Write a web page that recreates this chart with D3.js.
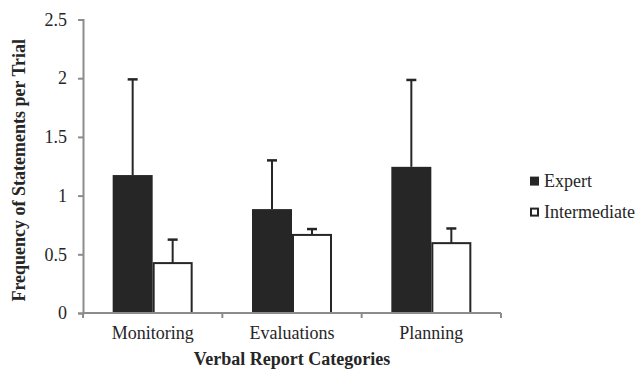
<!DOCTYPE html>
<html>
<head>
<meta charset="utf-8">
<script src="https://cdn.jsdelivr.net/npm/d3@7"></script>
<style>
  body { margin: 0; background: #fff; }
  svg text { font-family: "Liberation Serif", "DejaVu Serif", serif !important; }
</style>
</head>
<body>
<div id="viz"></div>
<script>
var categories = ['Monitoring', 'Evaluations', 'Planning'];
var series = ['Expert', 'Intermediate'];
var expert = [1.175, 0.885, 1.245];
var intermediate = [0.425, 0.665, 0.595];
var expertErr = [0.815, 0.415, 0.74];
var intermediateErr = [0.2, 0.05, 0.125];
var yTicks = [0, 0.5, 1, 1.5, 2, 2.5];

var FONT = '"Liberation Serif", "DejaVu Serif", serif';
var margin = { top: 19.5, right: 136, bottom: 56, left: 83 };
var W = 637, H = 369;
var width = W - margin.left - margin.right;
var height = H - margin.top - margin.bottom;

var svg = d3.select('#viz').append('svg')
    .attr('width', W)
    .attr('height', H)
    .append('g')
    .attr('transform', 'translate(' + margin.left + ',' + margin.top + ')');

var x = d3.scaleBand().domain(categories).range([0, width]).paddingInner(0).paddingOuter(0);
var x1 = d3.scaleBand().domain(series).range([0, 80]);
var y = d3.scaleLinear().domain([0, 2.5]).range([height, 0]);

var data = categories.map(function(c, i) {
    return [
        { cat: c, s: 'Expert', v: expert[i], e: expertErr[i] },
        { cat: c, s: 'Intermediate', v: intermediate[i], e: intermediateErr[i] }
    ];
});

var groups = svg.selectAll('.grp')
    .data(data)
    .enter().append('g')
    .attr('transform', function(d) {
        return 'translate(' + (x(d[0].cat) + x.bandwidth() / 2 - 40) + ',0)';
    });

// error bars (upper only), drawn under bars
groups.selectAll('.err')
    .data(function(d) { return d; })
    .enter().append('g')
    .each(function(d) {
        var g = d3.select(this);
        var cx = x1(d.s) + x1.bandwidth() / 2;
        g.append('line')
            .attr('x1', cx).attr('x2', cx)
            .attr('y1', y(d.v)).attr('y2', y(d.v + d.e))
            .attr('stroke', '#262626').attr('stroke-width', 2);
        g.append('line')
            .attr('x1', cx - 5).attr('x2', cx + 5)
            .attr('y1', y(d.v + d.e)).attr('y2', y(d.v + d.e))
            .attr('stroke', '#262626').attr('stroke-width', 2.5);
    });

groups.selectAll('rect')
    .data(function(d) { return d; })
    .enter().append('rect')
    .attr('x', function(d) { return x1(d.s) + (d.s == 'Expert' ? 0 : 1); })
    .attr('width', function(d) { return x1.bandwidth() - (d.s == 'Expert' ? 0 : 2); })
    .attr('y', function(d) { return y(d.v); })
    .attr('height', function(d) { return height - y(d.v); })
    .attr('fill', function(d) { return d.s == 'Expert' ? '#262626' : '#fff'; })
    .attr('stroke', function(d) { return d.s == 'Expert' ? 'none' : '#262626'; })
    .attr('stroke-width', 2);

// y axis
var yAxis = svg.append('g')
    .call(d3.axisLeft(y).tickValues(yTicks).tickFormat(d3.format('')).tickSize(5).tickPadding(11));
yAxis.attr('font-family', FONT);
yAxis.select('.domain').attr('stroke', '#8c8c8c').attr('stroke-width', 2);
yAxis.selectAll('.tick line').attr('stroke', '#8c8c8c').attr('stroke-width', 2);
yAxis.selectAll('text').style('font-size', '18px').style('font-family', FONT).attr('fill', '#262626');

// x axis
var xAxis = svg.append('g')
    .attr('transform', 'translate(0,' + height + ')');
xAxis.append('line')
    .attr('x1', 0).attr('x2', width)
    .attr('stroke', '#8c8c8c').attr('stroke-width', 2);
xAxis.selectAll('.xt')
    .data(categories.concat(['end']))
    .enter().append('line')
    .attr('x1', function(d, i) { return i * x.bandwidth(); })
    .attr('x2', function(d, i) { return i * x.bandwidth(); })
    .attr('y1', 0).attr('y2', 5)
    .attr('stroke', '#8c8c8c').attr('stroke-width', 2);
xAxis.selectAll('.xl')
    .data(categories)
    .enter().append('text')
    .attr('x', function(d) { return x(d) + x.bandwidth() / 2; })
    .attr('y', 26)
    .attr('text-anchor', 'middle')
    .style('font-size', '18px')
    .style('font-family', FONT)
    .attr('fill', '#262626')
    .text(function(d) { return d; });

svg.append('text')
    .attr('x', width / 2)
    .attr('y', height + 52)
    .attr('text-anchor', 'middle')
    .style('font-size', '18px')
    .style('font-weight', 'bold')
    .style('font-family', FONT)
    .attr('fill', '#262626')
    .text('Verbal Report Categories');

svg.append('text')
    .attr('transform', 'translate(' + (-58) + ',' + (height / 2 + 4) + ') rotate(-90)')
    .attr('text-anchor', 'middle')
    .style('font-size', '18px')
    .style('font-weight', 'bold')
    .style('font-family', FONT)
    .attr('fill', '#262626')
    .text('Frequency of Statements per Trial');

// legend
var legend = svg.append('g')
    .attr('transform', 'translate(' + (width + 29) + ',' + (y(1) - 19) + ')');
series.forEach(function(s, i) {
    var lg = legend.append('g').attr('transform', 'translate(0,' + (i * 31) + ')');
    lg.append('rect')
        .attr('x', s == 'Expert' ? 0 : 1).attr('y', s == 'Expert' ? 0 : 1)
        .attr('width', s == 'Expert' ? 9 : 7).attr('height', s == 'Expert' ? 9 : 7)
        .attr('fill', s == 'Expert' ? '#262626' : '#fff')
        .attr('stroke', s == 'Expert' ? 'none' : '#262626')
        .attr('stroke-width', 2);
    lg.append('text')
        .attr('x', 14).attr('y', 10)
        .style('font-size', '18px')
        .style('font-family', FONT)
        .attr('fill', '#262626')
        .text(s);
});
</script>
</body>
</html>
